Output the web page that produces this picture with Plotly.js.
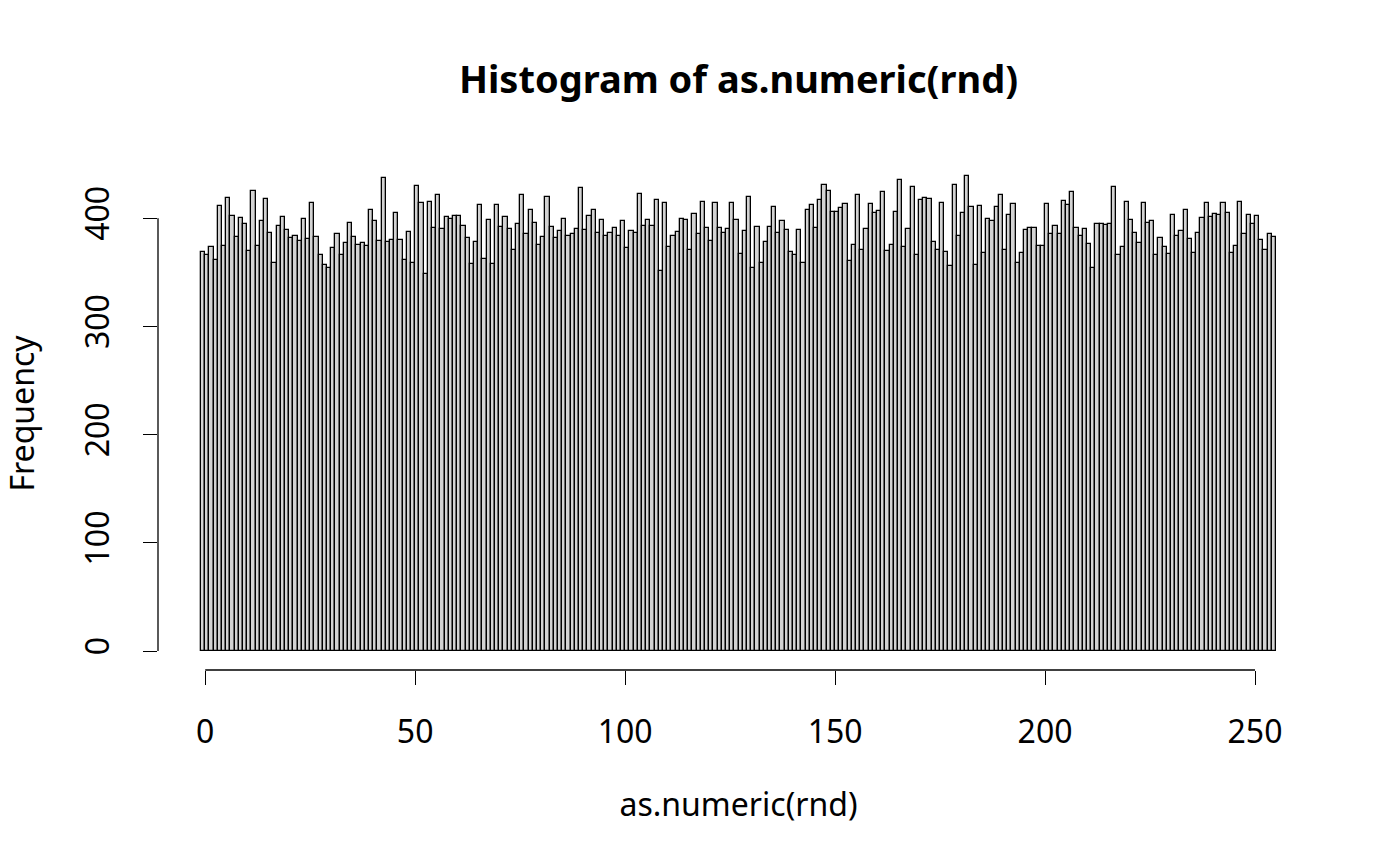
<!DOCTYPE html>
<html>
<head>
<meta charset="utf-8">
<script src="https://cdn.plot.ly/plotly-3.0.1.min.js"></script>
<style>html,body{margin:0;padding:0;background:#fff;}#chart{width:1400px;height:866px;}</style>
</head>
<body>
<div id="chart"></div>
<script>
// Histogram of as.numeric(rnd): one bin per integer value 0..255, breaks -1..255 (right-closed)
const binValues = Array.from({length: 256}, (_, i) => i);
const counts = [
  369,366,373,361,411,374,419,402,383,400,395,370,425,374,397,418,
  386,359,393,401,389,382,384,379,399,381,414,383,366,357,354,372,
  385,366,377,396,383,375,377,374,408,397,379,437,378,380,405,380,
  361,387,359,430,414,348,415,391,421,390,401,399,402,402,393,382,
  358,378,412,362,398,358,412,392,401,390,371,395,421,385,408,396,
  375,383,420,392,382,388,399,384,385,390,428,389,402,408,386,398,
  384,386,391,384,397,372,388,386,422,393,398,393,417,351,414,373,
  384,387,399,398,371,404,385,415,391,379,414,391,386,390,414,398,
  367,388,420,354,392,359,378,392,410,386,397,389,369,366,389,359,
  408,412,391,417,431,425,406,406,409,413,360,375,421,371,390,413,
  405,407,424,370,375,406,435,373,390,429,366,417,419,418,378,371,
  414,369,356,431,384,405,439,410,357,411,368,399,397,410,421,371,
  403,413,359,368,389,391,391,374,374,413,385,393,385,416,412,424,
  391,384,390,376,354,395,395,394,395,429,366,373,415,398,386,377,
  414,396,397,366,382,373,367,403,384,388,408,381,368,386,400,414,
  401,404,403,414,405,368,374,415,385,403,395,402,380,371,385,383
];
const xTicks = [0, 50, 100, 150, 200, 250];
const yTicks = [0, 100, 200, 300, 400];
const titleText = 'Histogram of as.numeric(rnd)';
const xTitle = 'as.numeric(rnd)';
const yTitle = 'Frequency';

// bin centres: each bin (v-1, v]
const centers = binValues.map(v => v - 0.5);
const lo = binValues[0] - 1, hi = binValues[binValues.length - 1];
const xPad = (hi - lo) * 0.04;
const yMax = Math.max(...counts);
const yPad = yMax * 0.04;

const font = 'Noto Sans, Open Sans, DejaVu Sans, sans-serif';

const trace = {
  type: 'bar',
  x: centers,
  y: counts,
  width: 1,
  marker: {color: '#d3d3d3', line: {color: '#000000', width: 1.3}},
  hoverinfo: 'x+y'
};

const layout = {
  width: 1400, height: 866,
  paper_bgcolor: '#ffffff', plot_bgcolor: '#ffffff',
  margin: {l: 158, r: 81, t: 157, b: 196},
  showlegend: false,
  bargap: 0,
  font: {family: font, color: '#000000', size: 32},
  title: {
    text: titleText,
    font: {family: font, size: 38, weight: 'bold', color: '#000000'},
    x: 0.5, xref: 'paper', xanchor: 'center',
    y: 1 - 80 / 866, yref: 'container', yanchor: 'middle'
  },
  xaxis: {
    range: [lo - xPad, hi + xPad],
    tickmode: 'array', tickvals: xTicks, ticktext: xTicks.map(String),
    ticks: 'outside', ticklen: 14, tickwidth: 1.3, tickcolor: '#000',
    ticklabelstandoff: 20,
    showline: false, zeroline: false, showgrid: false,
    tickfont: {family: font, size: 32, color: '#000'},
    title: {text: xTitle, font: {family: font, size: 32, color: '#000'}, standoff: 42},
    automargin: false, fixedrange: true
  },
  yaxis: {
    range: [-yPad, yMax + yPad],
    tickmode: 'array', tickvals: yTicks, ticktext: yTicks.map(String),
    ticks: 'outside', ticklen: 14, tickwidth: 1.3, tickcolor: '#000',
    tickangle: -90,
    ticklabelstandoff: 21,
    showline: false, zeroline: false, showgrid: false,
    tickfont: {family: font, size: 32, color: '#000'},
    title: {text: yTitle, font: {family: font, size: 32, color: '#000'}, standoff: 35},
    automargin: false, fixedrange: true
  },
  shapes: [
    {type: 'line', xref: 'x', yref: 'paper', x0: xTicks[0], x1: xTicks[xTicks.length - 1], y0: 0, y1: 0,
     line: {color: '#000', width: 1.3}},
    {type: 'line', xref: 'paper', yref: 'y', x0: 0, x1: 0, y0: yTicks[0], y1: yTicks[yTicks.length - 1],
     line: {color: '#000', width: 1.3}}
  ]
};

Plotly.newPlot('chart', [trace], layout, {displayModeBar: false, staticPlot: false});
</script>
</body>
</html>
